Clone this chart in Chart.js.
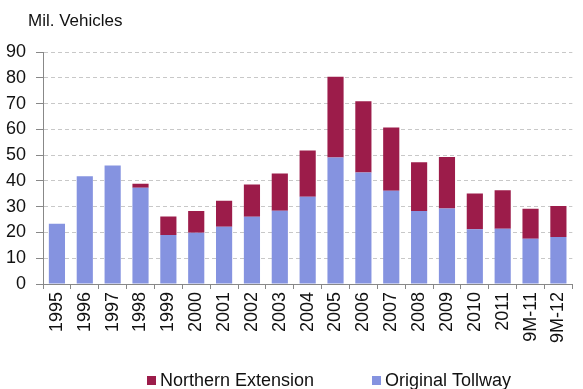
<!DOCTYPE html>
<html>
<head>
<meta charset="utf-8">
<script src="https://cdn.jsdelivr.net/npm/chart.js@4/dist/chart.umd.min.js"></script>
<style>
  html, body { margin: 0; padding: 0; background: #fff; }
  #wrap { width: 583px; height: 389px; position: relative; }
</style>
</head>
<body>
<div id="wrap"><canvas id="c" width="583" height="389"></canvas></div>
<script>
const categories = ["1995","1996","1997","1998","1999","2000","2001","2002","2003","2004","2005","2006","2007","2008","2009","2010","2011","9M-11","9M-12"];
const originalTollway = [23.4, 41.8, 46.0, 37.3, 19.0, 19.9, 22.2, 26.1, 28.4, 33.8, 49.1, 43.3, 36.2, 28.3, 29.3, 21.2, 21.4, 17.6, 18.2];
const northernExtension = [0, 0, 0, 1.6, 7.2, 8.4, 10.1, 12.5, 14.5, 18.0, 31.3, 27.6, 24.5, 18.9, 20.0, 13.9, 15.0, 11.6, 12.1];
const yTicks = [0, 10, 20, 30, 40, 50, 60, 70, 80, 90];
const seriesNames = ["Original Tollway", "Northern Extension"];
const unitLabel = "Mil. Vehicles";

const FONT = "'Liberation Sans', Arial, sans-serif";

const extraText = {
  id: 'extraText',
  afterDraw(chart) {
    const ctx = chart.ctx;
    ctx.save();
    ctx.fillStyle = '#111';
    ctx.font = "17px " + FONT;
    ctx.textBaseline = 'middle';
    ctx.textAlign = 'left';
    ctx.fillText(unitLabel, 28, 21);
    // legend (order: Northern Extension, Original Tollway)
    const items = [
      { ds: chart.data.datasets[1], x: 147 },
      { ds: chart.data.datasets[0], x: 372 }
    ];
    ctx.font = "18px " + FONT;
    items.forEach(it => {
      ctx.fillStyle = it.ds.backgroundColor;
      ctx.fillRect(it.x, 376, 9, 9);
      ctx.fillStyle = '#111';
      ctx.fillText(it.ds.label, it.x + 13, 381);
    });
    ctx.restore();
  }
};

new Chart(document.getElementById('c'), {
  type: 'bar',
  data: {
    labels: categories,
    datasets: [
      { label: seriesNames[0], data: originalTollway, backgroundColor: '#8593e0', barPercentage: 0.58, categoryPercentage: 1.0 },
      { label: seriesNames[1], data: northernExtension, backgroundColor: '#9c1c4a', barPercentage: 0.58, categoryPercentage: 1.0 }
    ]
  },
  options: {
    responsive: false,
    animation: false,
    layout: { padding: { top: 52, bottom: 45, left: 0, right: 0 } },
    plugins: {
      legend: { display: false },
      title: { display: false },
      tooltip: { enabled: false }
    },
    scales: {
      x: {
        stacked: true,
        afterFit(scale) { scale.height = 60; },
        grid: {
          offset: true,
          drawOnChartArea: false,
          drawTicks: true,
          tickLength: 5,
          tickColor: '#888'
        },
        border: { display: true, color: '#888', width: 1 },
        ticks: {
          minRotation: 90,
          maxRotation: 90,
          autoSkip: false,
          padding: 3,
          color: '#111',
          font: { family: FONT, size: 18 }
        }
      },
      y: {
        stacked: true,
        min: 0,
        max: 90,
        afterFit(scale) { scale.width = 43; },
        afterBuildTicks(scale) { scale.ticks = yTicks.map(v => ({ value: v })); },
        grid: {
          color: '#c8c8c8',
          tickColor: '#888',
          tickLength: 7,
          drawTicks: true
        },
        border: { display: true, color: '#888', width: 1, dash: [4, 3] },
        ticks: {
          padding: 10,
          color: '#111',
          font: { family: FONT, size: 18 }
        }
      }
    }
  },
  plugins: [extraText]
});
</script>
</body>
</html>
